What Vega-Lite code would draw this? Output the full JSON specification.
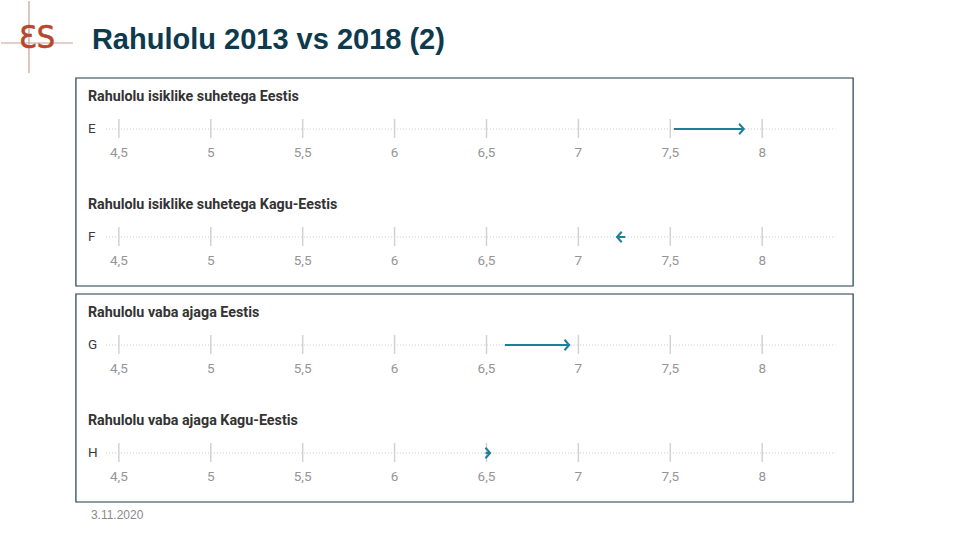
{
  "$schema": "https://vega.github.io/schema/vega-lite/v6.json",
  "width": 960,
  "height": 540,
  "autosize": {"type": "fit", "contains": "padding"},
  "padding": 0,
  "background": "white",
  "config": {"view": {"stroke": null}},
  "datasets": {
    "rows": [
      {"row": "E", "title": "Rahulolu isiklike suhetega Eestis", "y2013": 7.52, "y2018": 7.9},
      {"row": "F", "title": "Rahulolu isiklike suhetega Kagu-Eestis", "y2013": 7.255, "y2018": 7.21},
      {"row": "G", "title": "Rahulolu vaba ajaga Eestis", "y2013": 6.6, "y2018": 6.95},
      {"row": "H", "title": "Rahulolu vaba ajaga Kagu-Eestis", "y2013": 6.495, "y2018": 6.52}
    ],
    "ticks": [
      {"row": "E", "v": 4.5, "lab": "4,5"}, {"row": "E", "v": 5, "lab": "5"}, {"row": "E", "v": 5.5, "lab": "5,5"}, {"row": "E", "v": 6, "lab": "6"},
      {"row": "E", "v": 6.5, "lab": "6,5"}, {"row": "E", "v": 7, "lab": "7"}, {"row": "E", "v": 7.5, "lab": "7,5"}, {"row": "E", "v": 8, "lab": "8"},
      {"row": "F", "v": 4.5, "lab": "4,5"}, {"row": "F", "v": 5, "lab": "5"}, {"row": "F", "v": 5.5, "lab": "5,5"}, {"row": "F", "v": 6, "lab": "6"},
      {"row": "F", "v": 6.5, "lab": "6,5"}, {"row": "F", "v": 7, "lab": "7"}, {"row": "F", "v": 7.5, "lab": "7,5"}, {"row": "F", "v": 8, "lab": "8"},
      {"row": "G", "v": 4.5, "lab": "4,5"}, {"row": "G", "v": 5, "lab": "5"}, {"row": "G", "v": 5.5, "lab": "5,5"}, {"row": "G", "v": 6, "lab": "6"},
      {"row": "G", "v": 6.5, "lab": "6,5"}, {"row": "G", "v": 7, "lab": "7"}, {"row": "G", "v": 7.5, "lab": "7,5"}, {"row": "G", "v": 8, "lab": "8"},
      {"row": "H", "v": 4.5, "lab": "4,5"}, {"row": "H", "v": 5, "lab": "5"}, {"row": "H", "v": 5.5, "lab": "5,5"}, {"row": "H", "v": 6, "lab": "6"},
      {"row": "H", "v": 6.5, "lab": "6,5"}, {"row": "H", "v": 7, "lab": "7"}, {"row": "H", "v": 7.5, "lab": "7,5"}, {"row": "H", "v": 8, "lab": "8"}
    ],
    "boxes": [
      {"box": 1, "top": "E", "bottom": "F"},
      {"box": 2, "top": "G", "bottom": "H"}
    ],
    "header": [{"title": "Rahulolu 2013 vs 2018 (2)", "logo": "ƐS", "date": "3.11.2020"}]
  },
  "layer": [
    {
      "data": {"name": "boxes"},
      "mark": {"type": "rect", "fill": null, "stroke": "#1f3d4d", "strokeWidth": 1.2, "yOffset": -51, "y2Offset": 49},
      "encoding": {
        "x": {"datum": 4.2663, "type": "quantitative", "scale": {"domain": [3.8587, 9.0761], "nice": false, "zero": false}, "axis": null},
        "x2": {"datum": 8.4946},
        "y": {"field": "top", "type": "nominal", "scale": {"type": "point", "domain": ["E", "F", "G", "H"], "range": [128, 452], "padding": 0}, "axis": null},
        "y2": {"field": "bottom"}
      }
    },
    {
      "data": {"name": "header"},
      "mark": {"type": "rule", "stroke": "#c9a196", "strokeWidth": 1.2, "yOffset": -86},
      "encoding": {
        "x": {"datum": 3.8587, "type": "quantitative"},
        "x2": {"datum": 4.25},
        "y": {"datum": "E", "type": "nominal"}
      }
    },
    {
      "data": {"name": "header"},
      "mark": {"type": "rule", "stroke": "#c9a196", "strokeWidth": 1.2, "yOffset": -128, "y2Offset": -56},
      "encoding": {
        "x": {"datum": 4.0109, "type": "quantitative"},
        "y": {"datum": "E", "type": "nominal"},
        "y2": {"datum": "E"}
      }
    },
    {
      "data": {"name": "header"},
      "mark": {"type": "text", "font": "DejaVu Sans Condensed", "fontSize": 32, "fill": "#b5472c", "stroke": "#b5472c", "strokeWidth": 0.6, "align": "center", "baseline": "middle", "yOffset": -91},
      "encoding": {
        "x": {"datum": 4.0543, "type": "quantitative"},
        "y": {"datum": "E", "type": "nominal"},
        "text": {"field": "logo"}
      }
    },
    {
      "data": {"name": "header"},
      "mark": {"type": "text", "font": "Liberation Sans", "fontWeight": "bold", "fontSize": 29, "fill": "#0e3a4e", "align": "left", "baseline": "middle", "yOffset": -89},
      "encoding": {
        "x": {"datum": 4.3533, "type": "quantitative"},
        "y": {"datum": "E", "type": "nominal"},
        "text": {"field": "title"}
      }
    },
    {
      "data": {"name": "header"},
      "mark": {"type": "text", "font": "Liberation Sans", "fontSize": 12, "fill": "#8a8a8a", "align": "left", "baseline": "middle", "yOffset": 62},
      "encoding": {
        "x": {"datum": 4.3478, "type": "quantitative"},
        "y": {"datum": "H", "type": "nominal"},
        "text": {"field": "date"}
      }
    },
    {
      "data": {"name": "rows"},
      "mark": {"type": "rule", "stroke": "#c4c4c4", "strokeWidth": 1, "strokeDash": [1, 2]},
      "encoding": {
        "x": {"datum": 4.429, "type": "quantitative"},
        "x2": {"datum": 8.397},
        "y": {"field": "row", "type": "nominal"}
      }
    },
    {
      "data": {"name": "ticks"},
      "mark": {"type": "rule", "stroke": "#d2d2d2", "strokeWidth": 1.5, "yOffset": -10, "y2Offset": 9},
      "encoding": {
        "x": {"field": "v", "type": "quantitative"},
        "y": {"field": "row", "type": "nominal"},
        "y2": {"field": "row"}
      }
    },
    {
      "data": {"name": "ticks"},
      "mark": {"type": "text", "font": "Roboto", "fontSize": 13.5, "fill": "#959595", "align": "center", "baseline": "middle", "yOffset": 24},
      "encoding": {
        "x": {"field": "v", "type": "quantitative"},
        "y": {"field": "row", "type": "nominal"},
        "text": {"field": "lab"}
      }
    },
    {
      "data": {"name": "rows"},
      "mark": {"type": "text", "font": "Roboto", "fontWeight": "bold", "fontSize": 14.3, "fill": "#333333", "align": "left", "baseline": "middle", "yOffset": -32},
      "encoding": {
        "x": {"datum": 4.3315, "type": "quantitative"},
        "y": {"field": "row", "type": "nominal"},
        "text": {"field": "title"}
      }
    },
    {
      "data": {"name": "rows"},
      "mark": {"type": "text", "font": "Roboto", "fontSize": 13.5, "fill": "#3a3a3a", "align": "left", "baseline": "middle"},
      "encoding": {
        "x": {"datum": 4.3315, "type": "quantitative"},
        "y": {"field": "row", "type": "nominal"},
        "text": {"field": "row"}
      }
    },
    {
      "data": {"name": "rows"},
      "mark": {"type": "rule", "stroke": "#1f7f98", "strokeWidth": 2},
      "encoding": {
        "x": {"field": "y2013", "type": "quantitative"},
        "x2": {"field": "y2018"},
        "y": {"field": "row", "type": "nominal"}
      }
    },
    {
      "data": {"name": "rows"},
      "mark": {"type": "point", "shape": "M-0.9,-1L0,0L-0.9,1", "filled": false, "stroke": "#1f7f98", "strokeWidth": 2, "size": 110, "opacity": 1},
      "encoding": {
        "x": {"field": "y2018", "type": "quantitative"},
        "y": {"field": "row", "type": "nominal"},
        "angle": {"condition": {"test": "datum.y2018 < datum.y2013", "value": 180}, "value": 0}
      }
    }
  ]
}
